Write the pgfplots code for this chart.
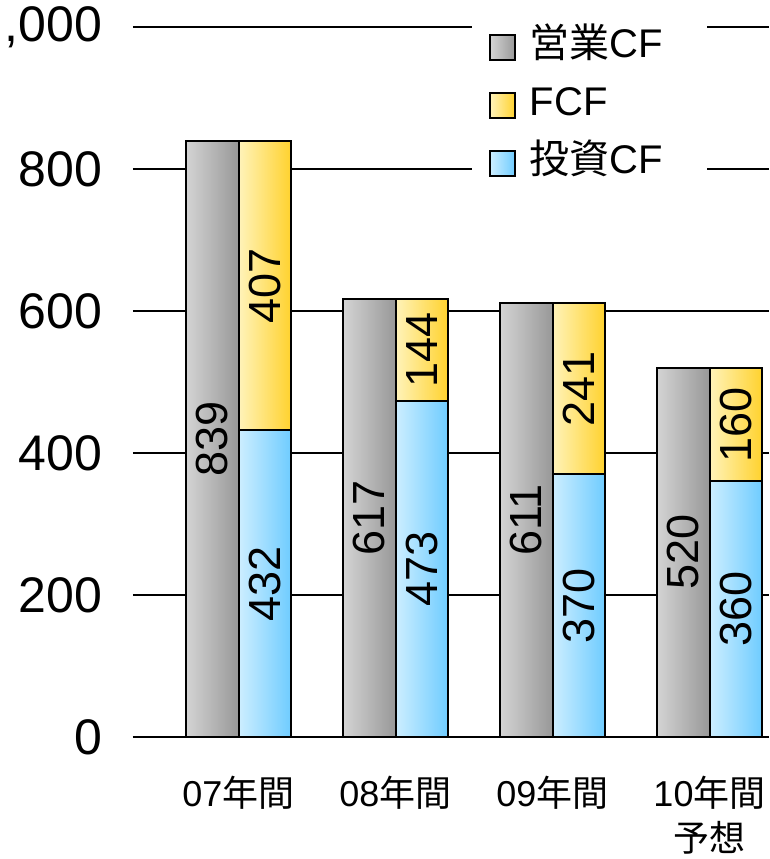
\documentclass[border=0pt]{standalone}
\usepackage{pgfplots}
\usepackage{pgfplotstable}
\pgfplotsset{compat=1.18}
\usepackage{fontspec}
\setmainfont{Liberation Sans}
\newfontfamily\cjk{Noto Sans CJK JP}

\definecolor{grayL}{HTML}{D4D4D4}
\definecolor{grayR}{HTML}{989898}
\definecolor{yelL}{HTML}{FFF3BA}
\definecolor{yelR}{HTML}{FFD22E}
\definecolor{bluL}{HTML}{CDEEFF}
\definecolor{bluR}{HTML}{6FCCFF}

\pgfplotstableread{
x op inv fcf
0 839 432 407
1 617 473 144
2 611 370 241
3 520 360 160
}\cfdata

\pgfplotsset{
  grayfill/.style={draw=black, line width=1pt, left color=grayL, right color=grayR},
  yelfill/.style={draw=black, line width=1pt, left color=yelL, right color=yelR},
  blufill/.style={draw=black, line width=1pt, left color=bluL, right color=bluR},
  onebar/.style={ybar, bar width=0.335, forget plot},
  vallabel/.style={draw=none, mark=none, nodes near coords, point meta=explicit symbolic, forget plot,
    every node near coord/.style={anchor=center, rotate=90, inner sep=0pt,
      font=\fontsize{22.5}{27}\selectfont, text=black}},
}

\newcommand\groupbars[2]{%
  \addplot[onebar, bar shift=-0.1675, grayfill, restrict x to domain=#1:#2]
    table[x=x, y=op]{\cfdata};
  \addplot[onebar, bar shift=0.1675, yelfill, restrict x to domain=#1:#2]
    table[x=x, y expr=\thisrow{inv}+\thisrow{fcf}]{\cfdata};
  \addplot[onebar, bar shift=0.1675, blufill, restrict x to domain=#1:#2]
    table[x=x, y=inv]{\cfdata};
}

\begin{document}
\begin{tikzpicture}
\begin{axis}[name=ax, scale only axis, width=318pt, height=355pt,
  xmin=-0.672, xmax=3.379, ymin=0, ymax=1000,
  axis lines*=left,
  y axis line style={draw=none},
  x axis line style={line width=1pt, black},
  ymajorgrids, major grid style={black, line width=0.7pt},
  ytick={0,200,400,600,800,1000},
  yticklabels={0,200,400,600,800,{,000}},
  yticklabel style={font=\fontsize{25}{30}\selectfont, xshift=-12pt},
  xtick={0,1,2,3},
  xticklabels={{07{\cjk 年間}},{08{\cjk 年間}},{09{\cjk 年間}},{10{\cjk 年間}\\{\cjk 予想}}},
  xticklabel style={font=\fontsize{18}{22.5}\selectfont, align=center, yshift=-16pt},
  tick style={draw=none},
  legend style={at={(rel axis cs:0.533,1.014)}, anchor=north west,
    draw=none, fill=white, inner xsep=8.5pt, inner ysep=5pt,
    row sep=9pt, column sep=7pt,
    nodes={inner sep=0pt, text height=15pt, text depth=5pt, text width=80pt, align=left},
    font=\fontsize{20}{24}\selectfont},
  legend cell align=left,
  legend image code/.code={\draw[#1, line width=0.8pt] (0pt,-6.25pt) rectangle (12.5pt,6.25pt);},
]
\groupbars{-0.5}{0.5}
\groupbars{0.5}{1.5}
\groupbars{1.5}{2.5}
\groupbars{2.5}{3.5}
\addplot[vallabel] table[x expr=\thisrow{x}-0.1675, y expr=\thisrow{op}/2, meta=op]{\cfdata};
\addplot[vallabel] table[x expr=\thisrow{x}+0.1675, y expr=\thisrow{inv}/2, meta=inv]{\cfdata};
\addplot[vallabel] table[x expr=\thisrow{x}+0.1675, y expr=\thisrow{inv}+\thisrow{fcf}/2, meta=fcf]{\cfdata};
\addlegendimage{grayfill}
\addlegendentry{{\cjk 営業}CF}
\addlegendimage{yelfill}
\addlegendentry{FCF}
\addlegendimage{blufill}
\addlegendentry{{\cjk 投資}CF}
\end{axis}

\pgfresetboundingbox
\path[use as bounding box] ([xshift=-66.5pt, yshift=-61pt]ax.south west) rectangle ([yshift=13.5pt]ax.north east);
\end{tikzpicture}
\end{document}
